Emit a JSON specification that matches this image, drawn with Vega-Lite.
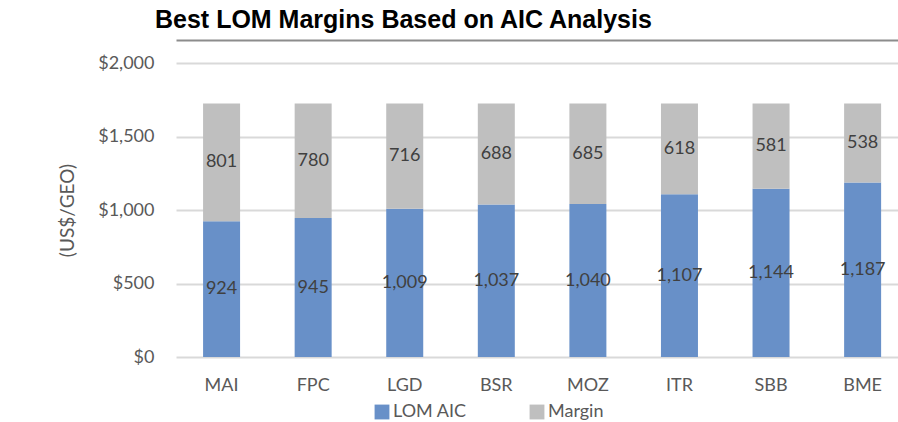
{
  "$schema": "https://vega.github.io/schema/vega-lite/v6.json",
  "width": 722,
  "height": 294,
  "autosize": {"type": "none"},
  "padding": {"left": 176, "top": 63, "right": 0, "bottom": 65},
  "background": "white",
  "title": {
    "text": "Best LOM Margins Based on AIC Analysis",
    "font": "Liberation Sans",
    "fontSize": 25,
    "fontWeight": "bold",
    "color": "#000000",
    "anchor": "start",
    "frame": "group",
    "dx": -21,
    "dy": 7,
    "offset": 14
  },
  "data": {
    "values": [
      {"site": "MAI", "series": "LOM AIC", "value": 924, "ord": 0},
      {"site": "MAI", "series": "Margin", "value": 801, "ord": 1},
      {"site": "FPC", "series": "LOM AIC", "value": 945, "ord": 0},
      {"site": "FPC", "series": "Margin", "value": 780, "ord": 1},
      {"site": "LGD", "series": "LOM AIC", "value": 1009, "ord": 0},
      {"site": "LGD", "series": "Margin", "value": 716, "ord": 1},
      {"site": "BSR", "series": "LOM AIC", "value": 1037, "ord": 0},
      {"site": "BSR", "series": "Margin", "value": 688, "ord": 1},
      {"site": "MOZ", "series": "LOM AIC", "value": 1040, "ord": 0},
      {"site": "MOZ", "series": "Margin", "value": 685, "ord": 1},
      {"site": "ITR", "series": "LOM AIC", "value": 1107, "ord": 0},
      {"site": "ITR", "series": "Margin", "value": 618, "ord": 1},
      {"site": "SBB", "series": "LOM AIC", "value": 1144, "ord": 0},
      {"site": "SBB", "series": "Margin", "value": 581, "ord": 1},
      {"site": "BME", "series": "LOM AIC", "value": 1187, "ord": 0},
      {"site": "BME", "series": "Margin", "value": 538, "ord": 1}
    ]
  },
  "layer": [
    {
      "mark": {"type": "bar"},
      "encoding": {
        "x": {
          "field": "site",
          "type": "nominal",
          "sort": null,
          "scale": {"paddingInner": 0.596, "paddingOuter": 0.24, "align": 0.616},
          "axis": {
            "title": null,
            "domain": false,
            "ticks": false,
            "labelAngle": 0,
            "labelFont": "Lato",
            "labelFontSize": 18,
            "labelColor": "#595959",
            "labelPadding": 19
          }
        },
        "y": {
          "field": "value",
          "type": "quantitative",
          "stack": "zero",
          "scale": {"domain": [0, 2000], "nice": false},
          "axis": {
            "values": [0, 500, 1000, 1500, 2000],
            "format": "$,.0f",
            "title": "(US$/GEO)",
            "titleFont": "Lato",
            "titleFontSize": 19,
            "titleFontWeight": "normal",
            "titleColor": "#595959",
            "titlePadding": 20,
            "labelFont": "Lato",
            "labelFontSize": 18,
            "labelColor": "#595959",
            "labelPadding": 22,
            "ticks": false,
            "domain": false,
            "grid": true,
            "gridColor": "#d9d9d9",
            "gridWidth": 2
          }
        },
        "color": {
          "field": "series",
          "type": "nominal",
          "sort": ["LOM AIC", "Margin"],
          "scale": {"domain": ["LOM AIC", "Margin"], "range": ["#6890c8", "#bfbfbf"]},
          "legend": {
            "title": null,
            "orient": "none",
            "direction": "horizontal",
            "legendX": 197,
            "legendY": 340,
            "symbolType": "square",
            "symbolSize": 220,
            "symbolStrokeWidth": 0,
            "labelFont": "Lato",
            "labelFontSize": 18,
            "labelColor": "#595959",
            "labelOffset": 2,
            "columnPadding": 61
          }
        },
        "order": {"field": "ord", "type": "quantitative"}
      }
    },
    {
      "mark": {"type": "text", "font": "Lato", "fontSize": 18, "color": "#404040", "baseline": "middle"},
      "encoding": {
        "x": {"field": "site", "type": "nominal", "sort": null, "axis": null},
        "y": {"field": "value", "type": "quantitative", "stack": "zero", "bandPosition": 0.5},
        "detail": {"field": "series"},
        "order": {"field": "ord", "type": "quantitative"},
        "text": {"field": "value", "type": "quantitative", "format": ",.0f"}
      }
    },
    {
      "mark": {"type": "tick", "opacity": 0},
      "encoding": {
        "x": {
          "field": "site",
          "type": "nominal",
          "sort": null,
          "axis": {
            "orient": "top",
            "title": null,
            "labels": false,
            "ticks": false,
            "grid": false,
            "domain": true,
            "domainColor": "#8c8c8c",
            "domainWidth": 2,
            "offset": 23
          }
        }
      }
    }
  ],
  "resolve": {"axis": {"x": "independent"}},
  "config": {"view": {"stroke": null}}
}
